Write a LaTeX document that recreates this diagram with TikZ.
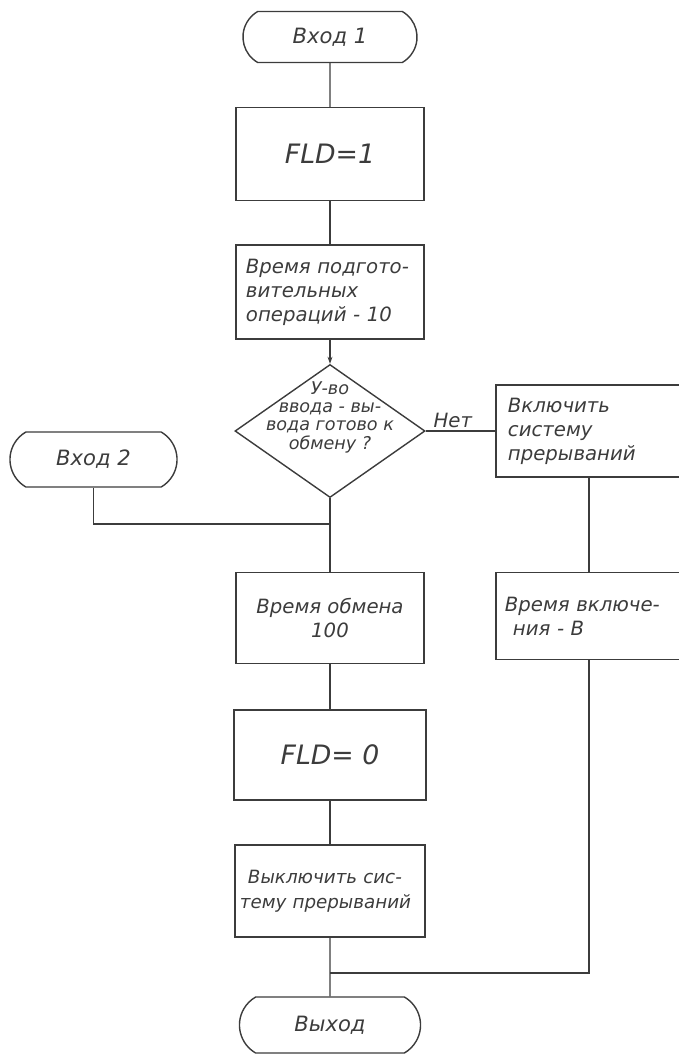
\documentclass[tikz,border=0pt]{standalone}
\usepackage{fontspec}
\setmainfont{DejaVu Sans}
\usetikzlibrary{shapes.geometric,shapes.misc,arrows.meta}
\definecolor{ink}{HTML}{3C3C3C}

\begin{document}
\begin{tikzpicture}[x=0.025cm, y=-0.025cm, line width=1pt, color=ink,
    every node/.style={font=\itshape\fontsize{14}{17}\selectfont, inner sep=0pt},
    block/.style={rectangle, draw, minimum width=4.7cm, minimum height=2.3cm},
    txtblock/.style={block, text width=4.2cm, align=left},
    terminal/.style={rounded rectangle, rounded rectangle arc length=120, draw, minimum width=4.35cm, minimum height=1.275cm, font=\itshape\fontsize{15}{17}\selectfont},
    decision/.style={diamond, draw, minimum width=4.75cm, minimum height=3.325cm},
    big/.style={font=\itshape\fontsize{19}{21}\selectfont}]
    \useasboundingbox (0,0) rectangle (679,1055);
    \clip (0,0) rectangle (679,1055);
    % main column
    \node[terminal] (in1) at (330,37) {Вход 1};
    \node[block, big, minimum height=2.325cm] (fld1) at (330,154) {FLD=1};
    \node[txtblock, minimum height=2.35cm] (prep) at (330,292) {Время подгото-\\вительных\\операций - 10};
    \node[decision] (cond) at (330,431) {};
    \node[font=\itshape\fontsize{12.5}{13}\selectfont, align=center] (condtext) at (330,417) {У-во\\ввода - вы-\\вода готово к\\обмену ?};
    \node[block, align=center, minimum height=2.275cm] (xchg) at (330,618) {Время обмена\\100};
    \node[block, big, minimum width=4.8cm, minimum height=2.25cm] (fld0) at (330,755) {FLD= 0};
    \node[txtblock, minimum width=4.75cm, text width=4.5cm, font=\itshape\fontsize{13}{18}\selectfont] (intoff) at (330,891) {\hspace{0.2cm}Выключить сис-\\тему прерываний};
    \node[terminal, minimum width=4.525cm, minimum height=1.4cm] (out) at (330,1025) {Выход};
    % right column
    \node[txtblock, minimum width=4.65cm, text width=4.05cm] (inton) at (589,431) {Включить\\систему\\прерываний};
    \node[txtblock, minimum width=4.65cm, text width=4.2cm, minimum height=2.175cm] (ontime) at (589,616) {Время включе-\\\hspace{0.2cm}ния - В};
    % second entry
    \node[terminal, minimum width=4.175cm, minimum height=1.375cm] (in2) at (93.5,459.5) {Вход 2};
    \coordinate (j2) at (330,524);
    \coordinate (j3) at (330,973);
        \draw (in1) -- (fld1);
        \draw (fld1) -- (prep);
        \draw[-{Stealth[length=5pt,width=3.5pt]}] (prep) -- (cond);
        \draw (cond) -- (xchg);
        \draw (cond) -- node[pos=0.39, anchor=south, yshift=2pt] (no) {Нет} (inton);
        \draw (inton) -- (ontime);
        \draw (ontime) |- (j3);
        \draw (in2) |- (j2);
        \draw (xchg) -- (fld0);
        \draw (fld0) -- (intoff);
        \draw (intoff) -- (out);
\end{tikzpicture}
\end{document}
